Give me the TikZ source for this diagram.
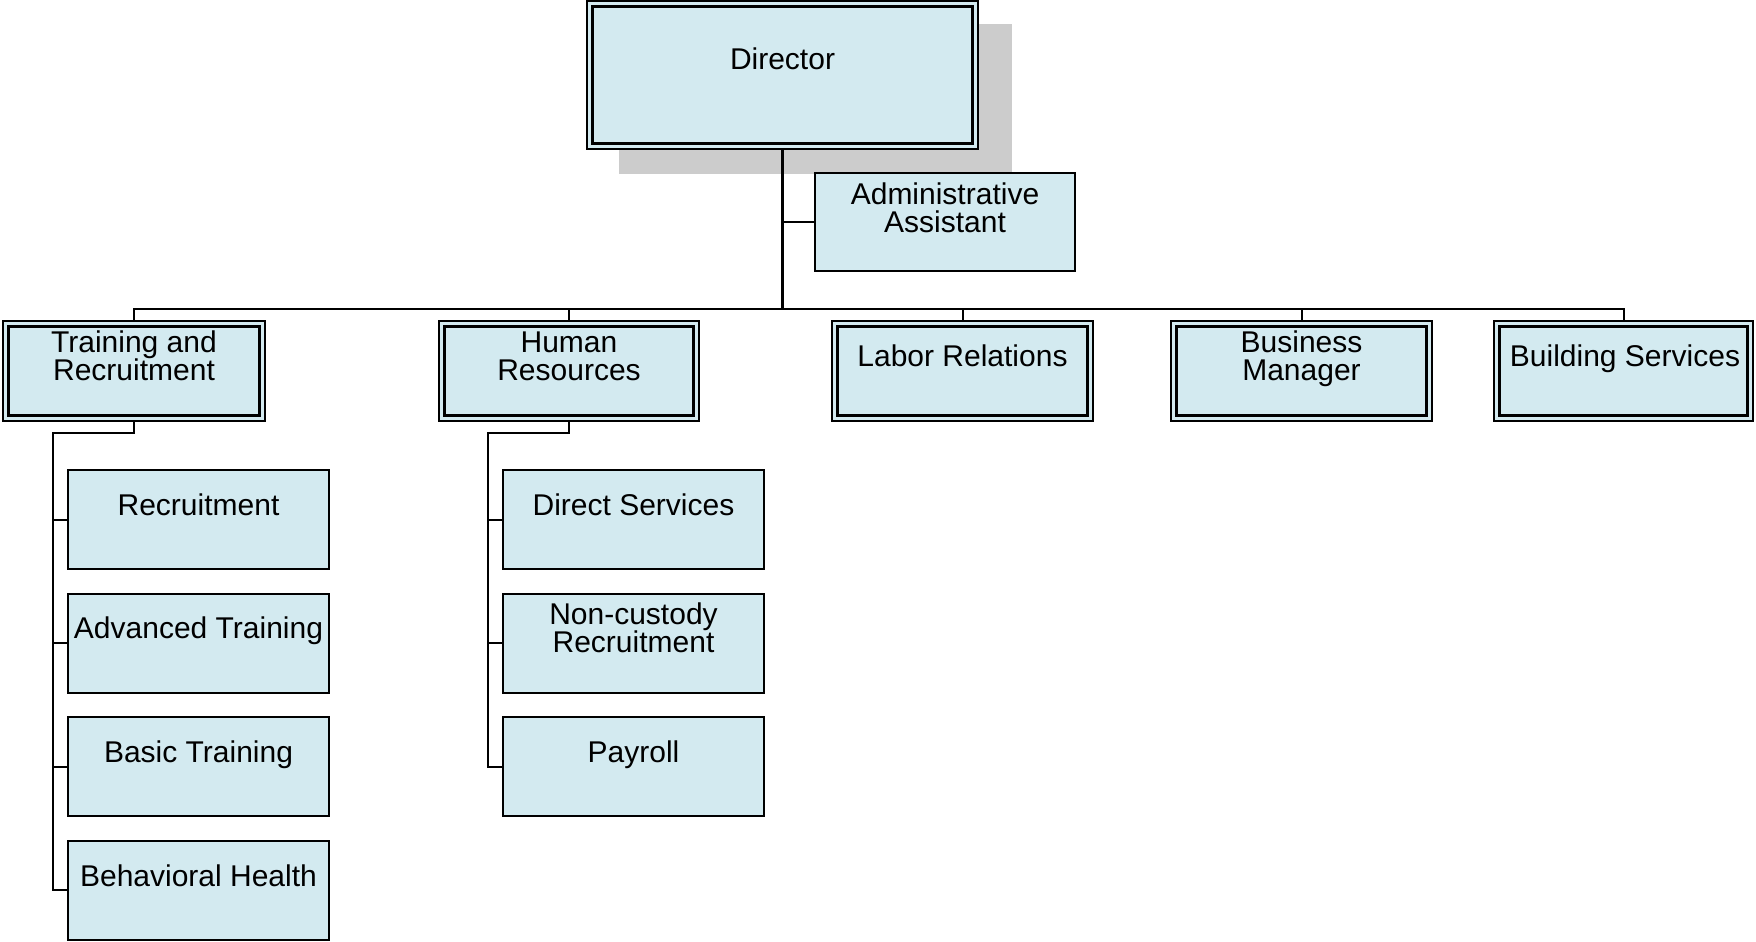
\documentclass[tikz,border=0pt]{standalone}
\usepackage{fontspec}
\setmainfont{Liberation Sans}
\usetikzlibrary{calc}
\definecolor{boxblue}{RGB}{211,234,240}
\definecolor{shadowgray}{RGB}{204,204,204}
\newcommand{\topst}{\rule{0pt}{11pt}}
\newcommand{\botst}{\rule[-3.3pt]{0pt}{3.3pt}}
\begin{document}
\begin{tikzpicture}[x=0.5pt,y=-0.5pt,
  outerbox/.style={draw=black,line width=0.6pt,fill=boxblue,inner sep=0pt,minimum height=50pt},
  childbox/.style={draw=black,line width=1pt,fill=boxblue,inner sep=0pt,minimum width=130.5pt,minimum height=49.5pt},
  txt/.style={inner sep=0pt,align=center,font=\fontsize{15}{14}\selectfont},
  link/.style={draw=black,line width=1pt},
  stem/.style={draw=black,line width=1.5pt}]
\useasboundingbox (0,0) rectangle (1756,942);

% shadow and director
\fill[shadowgray] (619,24) rectangle (1012,174);
\node[outerbox,minimum width=195.5pt,minimum height=74pt] (dir) at (782.5,75) {};
% admin assistant
\node[childbox,minimum width=130pt,minimum height=49pt] (adm) at (945,222) {};

% level two
\node[outerbox,minimum width=131pt] (tr) at (134,371) {};
\node[outerbox,minimum width=130pt] (hr) at (569,371) {};
\node[outerbox,minimum width=130.5pt] (lr) at (962.5,371) {};
\node[outerbox,minimum width=130.5pt] (bm) at (1301.5,371) {};
\node[outerbox,minimum width=129.5pt] (bs) at (1623.5,371) {};

% inner borders of double boxes
\foreach \n in {dir,tr,hr,lr,bm,bs}{
  \draw[line width=1.2pt] ($(\n.north west)+(3pt,-3pt)$) rectangle ($(\n.south east)+(-3pt,3pt)$);
}

% children of Training and Recruitment
\node[childbox] (c1) at (198.5,519.5) {};
\node[childbox] (c2) at (198.5,643) {};
\node[childbox] (c3) at (198.5,766.5) {};
\node[childbox] (c4) at (198.5,890) {};
% children of Human Resources
\node[childbox] (h1) at (633.5,519.5) {};
\node[childbox] (h2) at (633.5,643) {};
\node[childbox] (h3) at (633.5,766.5) {};

% texts
\node[txt] (dirt) at (782.5,62) {\topst Director\botst};
\node[txt] (admt) at (945,211) {\topst Administrative\\Assistant\botst};
\node[txt] (trt) at (134,359) {\topst Training and\\Recruitment\botst};
\node[txt] (hrt) at (569,359) {\topst Human\\Resources\botst};
\node[txt] (lrt) at (962.5,359) {\topst Labor Relations\botst};
\node[txt] (bmt) at (1301.5,359) {\topst Business\\Manager\botst};
\node[txt] (bst) at (1625,359) {\topst Building Services\botst};
\node[txt] (c1t) at (198.5,508) {\topst Recruitment\botst};
\node[txt] (c2t) at (198.5,631) {\topst Advanced Training\botst};
\node[txt] (c3t) at (198.5,754.5) {\topst Basic Training\botst};
\node[txt] (c4t) at (198.5,879) {\topst Behavioral Health\botst};
\node[txt] (h1t) at (633.5,508) {\topst Direct Services\botst};
\node[txt] (h2t) at (633.5,631) {\topst Non-custody\\Recruitment\botst};
\node[txt] (h3t) at (633.5,754.5) {\topst Payroll\botst};

% connectors
\coordinate (busy) at (0,308.5);
\coordinate (trsp) at (53,433);
\coordinate (hrsp) at (488,433);
\draw[link] (tr.north) -- (tr.north |- busy) -- (bs.north |- busy) -- (bs.north);
\foreach \n in {hr,lr,bm}{ \draw[link] (\n.north) -- (\n.north |- busy); }
\draw[stem] (dir.south) -- (dir.south |- busy);
\draw[link] (adm.west) -- (adm.west -| dir.south);

\draw[link] (tr.south) -- (tr.south |- trsp) -- (trsp) -- (trsp |- c4.west) -- (c4.west);
\foreach \n in {c1,c2,c3}{ \draw[link] (\n.west) -- (\n.west -| trsp); }
\draw[link] (hr.south) -- (hr.south |- hrsp) -- (hrsp) -- (hrsp |- h3.west) -- (h3.west);
\foreach \n in {h1,h2}{ \draw[link] (\n.west) -- (\n.west -| hrsp); }
\end{tikzpicture}
\end{document}
